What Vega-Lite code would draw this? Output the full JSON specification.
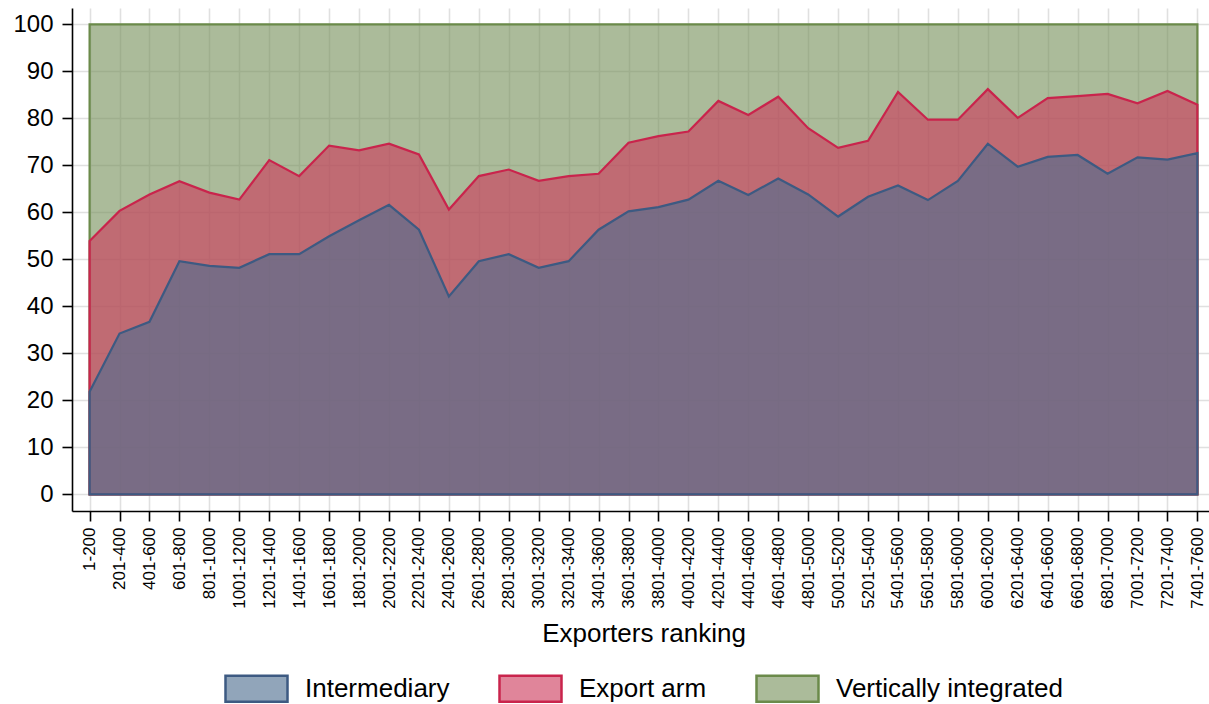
{
  "$schema": "https://vega.github.io/schema/vega-lite/v6.json",
  "autosize": "none",
  "padding": {"left": 72, "top": 8, "right": 0, "bottom": 193},
  "width": 1143,
  "height": 503,
  "background": "white",
  "config": {
    "font": "Liberation Sans",
    "view": {"stroke": null},
    "axis": {
      "domainColor": "#000000",
      "domainWidth": 1.6,
      "tickColor": "#000000",
      "tickWidth": 1.6,
      "tickSize": 10,
      "labelColor": "#000000",
      "titleColor": "#000000",
      "gridColor": "#e0e0e0",
      "gridWidth": 1.6,
      "titleFontWeight": "normal"
    }
  },
  "data": {
    "values": [
      {"rank": "1-200", "Intermediary": 21.8, "Export arm": 53.9, "Vertically integrated": 100},
      {"rank": "201-400", "Intermediary": 34.2, "Export arm": 60.3, "Vertically integrated": 100},
      {"rank": "401-600", "Intermediary": 36.7, "Export arm": 63.8, "Vertically integrated": 100},
      {"rank": "601-800", "Intermediary": 49.6, "Export arm": 66.6, "Vertically integrated": 100},
      {"rank": "801-1000", "Intermediary": 48.6, "Export arm": 64.2, "Vertically integrated": 100},
      {"rank": "1001-1200", "Intermediary": 48.2, "Export arm": 62.7, "Vertically integrated": 100},
      {"rank": "1201-1400", "Intermediary": 51.1, "Export arm": 71.1, "Vertically integrated": 100},
      {"rank": "1401-1600", "Intermediary": 51.1, "Export arm": 67.7, "Vertically integrated": 100},
      {"rank": "1601-1800", "Intermediary": 54.9, "Export arm": 74.2, "Vertically integrated": 100},
      {"rank": "1801-2000", "Intermediary": 58.3, "Export arm": 73.2, "Vertically integrated": 100},
      {"rank": "2001-2200", "Intermediary": 61.6, "Export arm": 74.6, "Vertically integrated": 100},
      {"rank": "2201-2400", "Intermediary": 56.3, "Export arm": 72.3, "Vertically integrated": 100},
      {"rank": "2401-2600", "Intermediary": 42.1, "Export arm": 60.6, "Vertically integrated": 100},
      {"rank": "2601-2800", "Intermediary": 49.6, "Export arm": 67.7, "Vertically integrated": 100},
      {"rank": "2801-3000", "Intermediary": 51.1, "Export arm": 69.1, "Vertically integrated": 100},
      {"rank": "3001-3200", "Intermediary": 48.2, "Export arm": 66.7, "Vertically integrated": 100},
      {"rank": "3201-3400", "Intermediary": 49.6, "Export arm": 67.7, "Vertically integrated": 100},
      {"rank": "3401-3600", "Intermediary": 56.3, "Export arm": 68.2, "Vertically integrated": 100},
      {"rank": "3601-3800", "Intermediary": 60.2, "Export arm": 74.8, "Vertically integrated": 100},
      {"rank": "3801-4000", "Intermediary": 61.1, "Export arm": 76.2, "Vertically integrated": 100},
      {"rank": "4001-4200", "Intermediary": 62.7, "Export arm": 77.2, "Vertically integrated": 100},
      {"rank": "4201-4400", "Intermediary": 66.7, "Export arm": 83.7, "Vertically integrated": 100},
      {"rank": "4401-4600", "Intermediary": 63.7, "Export arm": 80.7, "Vertically integrated": 100},
      {"rank": "4601-4800", "Intermediary": 67.2, "Export arm": 84.6, "Vertically integrated": 100},
      {"rank": "4801-5000", "Intermediary": 63.8, "Export arm": 77.9, "Vertically integrated": 100},
      {"rank": "5001-5200", "Intermediary": 59.1, "Export arm": 73.7, "Vertically integrated": 100},
      {"rank": "5201-5400", "Intermediary": 63.3, "Export arm": 75.2, "Vertically integrated": 100},
      {"rank": "5401-5600", "Intermediary": 65.7, "Export arm": 85.6, "Vertically integrated": 100},
      {"rank": "5601-5800", "Intermediary": 62.6, "Export arm": 79.7, "Vertically integrated": 100},
      {"rank": "5801-6000", "Intermediary": 66.7, "Export arm": 79.7, "Vertically integrated": 100},
      {"rank": "6001-6200", "Intermediary": 74.6, "Export arm": 86.2, "Vertically integrated": 100},
      {"rank": "6201-6400", "Intermediary": 69.7, "Export arm": 80.1, "Vertically integrated": 100},
      {"rank": "6401-6600", "Intermediary": 71.8, "Export arm": 84.3, "Vertically integrated": 100},
      {"rank": "6601-6800", "Intermediary": 72.2, "Export arm": 84.7, "Vertically integrated": 100},
      {"rank": "6801-7000", "Intermediary": 68.2, "Export arm": 85.2, "Vertically integrated": 100},
      {"rank": "7001-7200", "Intermediary": 71.7, "Export arm": 83.2, "Vertically integrated": 100},
      {"rank": "7201-7400", "Intermediary": 71.2, "Export arm": 85.8, "Vertically integrated": 100},
      {"rank": "7401-7600", "Intermediary": 72.6, "Export arm": 82.9, "Vertically integrated": 100}
    ]
  },
  "transform": [
    {"fold": ["Intermediary", "Export arm", "Vertically integrated"], "as": ["series", "top"]}
  ],
  "encoding": {
    "x": {
      "field": "rank",
      "type": "ordinal",
      "sort": null,
      "scale": {"type": "point", "padding": 0.5875},
      "axis": {
        "title": "Exporters ranking",
        "titleFontSize": 26,
        "titlePadding": 12,
        "labelAngle": -90,
        "labelFontSize": 17,
        "labelPadding": 6,
        "grid": true,
        "labelOverlap": false
      }
    },
    "y": {
      "field": "top",
      "type": "quantitative",
      "scale": {"domain": [-3.55, 103.47], "nice": false, "zero": false},
      "axis": {
        "title": null,
        "values": [0, 10, 20, 30, 40, 50, 60, 70, 80, 90, 100],
        "labelFontSize": 24,
        "labelPadding": 9,
        "grid": true
      }
    },
    "fill": {
      "field": "series",
      "type": "nominal",
      "scale": {
        "domain": ["Intermediary", "Export arm", "Vertically integrated"],
        "range": ["#4e6e90", "#cd3a5c", "#77915c"]
      },
      "legend": {
        "title": null,
        "orient": "none",
        "legendX": 152,
        "legendY": 648,
        "direction": "horizontal",
        "symbolType": "M-1,-0.42H1V0.42H-1Z",
        "symbolSize": 3844,
        "symbolStrokeWidth": 2.5,
        "labelFontSize": 26,
        "labelColor": "#000000",
        "labelOffset": 16,
        "columnPadding": 44,
        "labelLimit": 400,
        "encode": {"symbols": {"update": {"fillOpacity": {"value": 0.62}}}}
      }
    },
    "stroke": {
      "field": "series",
      "type": "nominal",
      "scale": {
        "domain": ["Intermediary", "Export arm", "Vertically integrated"],
        "range": ["#3d5a82", "#c9244c", "#6b8a4a"]
      },
      "legend": {
        "title": null,
        "orient": "none",
        "legendX": 152,
        "legendY": 648,
        "direction": "horizontal",
        "symbolType": "M-1,-0.42H1V0.42H-1Z",
        "symbolSize": 3844,
        "symbolStrokeWidth": 2.5,
        "labelFontSize": 26,
        "labelColor": "#000000",
        "labelOffset": 16,
        "columnPadding": 44,
        "labelLimit": 400,
        "encode": {"symbols": {"update": {"fillOpacity": {"value": 0.62}}}}
      }
    }
  },
  "layer": [
    {
      "transform": [{"filter": "datum.series == 'Vertically integrated'"}],
      "mark": {"type": "area", "fillOpacity": 0.62, "strokeWidth": 2.2, "strokeJoin": "miter"}
    },
    {
      "transform": [{"filter": "datum.series == 'Export arm'"}],
      "mark": {"type": "area", "fillOpacity": 0.62, "strokeWidth": 2.2, "strokeJoin": "miter"}
    },
    {
      "transform": [{"filter": "datum.series == 'Intermediary'"}],
      "mark": {"type": "area", "fillOpacity": 0.62, "strokeWidth": 2.2, "strokeJoin": "miter"}
    }
  ]
}
